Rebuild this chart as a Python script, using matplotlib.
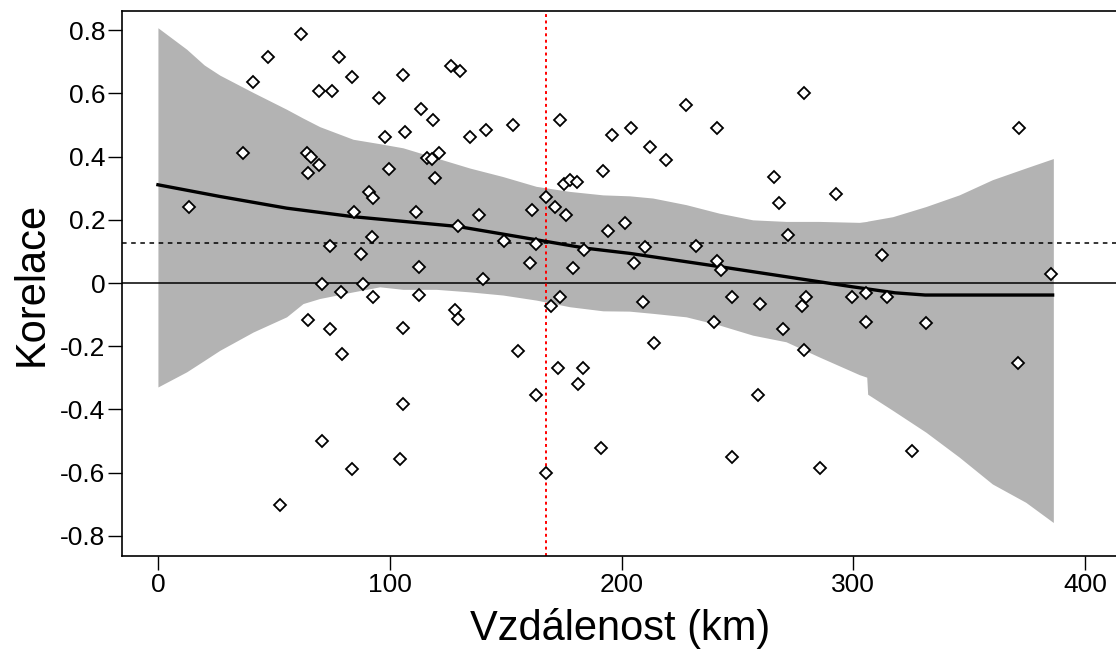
import matplotlib
matplotlib.use("Agg")
import matplotlib.pyplot as plt

plt.rcParams['font.family'] = ['Liberation Sans', 'DejaVu Sans']
plt.rcParams['axes.unicode_minus'] = False

# body: distance (km) vs. correlation
dist = [61.6, 47.3, 78.2, 41.0, 83.8, 69.3, 75.3, 95.4, 36.5, 64.5,
        66.2, 69.4, 64.7, 91.2, 93.0, 13.5, 84.6, 92.2, 74.4, 87.5,
        70.7, 88.5, 79.0, 92.8, 64.7, 74.4, 79.2, 70.7, 83.8, 52.6,
        126.3, 130.2, 105.7, 113.4, 118.8, 173.6, 98.1, 106.6, 134.8, 141.5,
        153.0, 195.8, 204.0, 121.1, 116.3, 118.2, 99.7, 119.5, 192.0, 175.0,
        177.6, 180.7, 167.5, 171.4, 176.0, 161.3, 111.2, 138.7, 129.4, 201.7,
        194.3, 149.1, 162.9, 183.8, 112.6, 160.6, 178.9, 140.2, 112.5, 173.6,
        169.7, 128.0, 129.4, 105.7, 155.5, 172.8, 183.6, 181.2, 162.9, 105.7,
        191.2, 104.3, 167.5, 278.9, 227.7, 241.4, 212.4, 219.4, 265.8, 292.5,
        268.1, 272.0, 210.2, 232.3, 205.6, 241.2, 243.0, 312.4, 209.3, 247.6,
        259.8, 279.6, 278.0, 299.3, 305.5, 240.0, 269.5, 305.5, 214.1, 278.7,
        259.1, 247.6, 285.5, 314.7, 331.3, 371.0, 325.3, 371.7, 385.5]
corr = [0.788, 0.714, 0.714, 0.636, 0.653, 0.608, 0.608, 0.585, 0.410, 0.412,
        0.399, 0.372, 0.349, 0.288, 0.269, 0.242, 0.226, 0.147, 0.118, 0.091,
        -0.003, -0.003, -0.029, -0.043, -0.117, -0.146, -0.224, -0.500, -0.590, -0.703,
        0.687, 0.670, 0.658, 0.551, 0.517, 0.517, 0.462, 0.478, 0.462, 0.484,
        0.500, 0.468, 0.491, 0.410, 0.395, 0.392, 0.361, 0.332, 0.354, 0.315,
        0.327, 0.321, 0.271, 0.242, 0.214, 0.231, 0.225, 0.214, 0.181, 0.191,
        0.164, 0.134, 0.123, 0.103, 0.052, 0.062, 0.047, 0.012, -0.038, -0.043,
        -0.073, -0.084, -0.113, -0.141, -0.214, -0.270, -0.270, -0.320, -0.353, -0.382,
        -0.522, -0.557, -0.601, 0.602, 0.563, 0.490, 0.429, 0.388, 0.337, 0.282,
        0.254, 0.152, 0.114, 0.118, 0.062, 0.069, 0.041, 0.090, -0.061, -0.043,
        -0.067, -0.043, -0.073, -0.043, -0.033, -0.123, -0.145, -0.123, -0.190, -0.213,
        -0.353, -0.550, -0.584, -0.043, -0.128, -0.252, -0.533, 0.490, 0.029]

# smoothed fit and its confidence band
fit_x = [0, 26.7, 55.5, 84.2, 129.4, 163.2, 184.8, 203.4, 242.2, 271, 299.7, 318, 331, 386]
fit_y = [0.311, 0.274, 0.237, 0.21, 0.179, 0.137, 0.11, 0.094, 0.052, 0.02, -0.012, -0.031, -0.038, -0.038]

band_x = [0, 12.4, 20, 26.7, 41.1, 55.5, 62.6, 69.8, 84.2, 95.7, 105.7, 120.1, 134.5, 148.8,
          163.2, 177.6, 192, 203.4, 213.5, 227.9, 242.2, 256.6, 271, 285.3, 302.6,
          305.8, 306.2, 317, 331.3, 345.7, 360, 374.4, 386.3]
band_hi = [0.808, 0.74, 0.69, 0.658, 0.603, 0.55, 0.522, 0.495, 0.455, 0.441, 0.428, 0.396, 0.364, 0.337,
           0.306, 0.29, 0.279, 0.276, 0.269, 0.248, 0.221, 0.2, 0.195, 0.195, 0.192,
           0.195, 0.196, 0.21, 0.242, 0.279, 0.327, 0.364, 0.394]
band_lo = [-0.329, -0.281, -0.245, -0.213, -0.155, -0.107, -0.065, -0.049, -0.028, -0.012, -0.02, -0.02, -0.028, -0.038,
           -0.054, -0.075, -0.088, -0.089, -0.096, -0.107, -0.133, -0.165, -0.186, -0.234, -0.29,
           -0.298, -0.352, -0.403, -0.472, -0.551, -0.636, -0.694, -0.758]

mean_corr = 0.127
mean_dist = 167.5

yticks = [0.8, 0.6, 0.4, 0.2, 0, -0.2, -0.4, -0.6, -0.8]
ytick_labels = ['0.8', '0.6', '0.4', '0.2', '0', '-0.2', '-0.4', '-0.6', '-0.8']
xticks = [0, 100, 200, 300, 400]

fig = plt.figure(figsize=(11.16, 6.55), dpi=100)
ax = fig.add_axes([122 / 1116, 1 - 556 / 655, 996 / 1116, 545 / 655])

ax.fill_between(band_x, band_lo, band_hi, color='#b3b3b3', lw=0, zorder=1)
ax.axhline(0, color='black', lw=1.1, zorder=2)
ax.axhline(mean_corr, color='black', lw=1.1, ls=(0, (3, 3)), zorder=2)
ax.axvline(mean_dist, color='red', lw=1.4, ls=(0, (1.5, 1.8)), zorder=2)
ax.plot(fit_x, fit_y, color='black', lw=2.4, zorder=3)
ax.plot(dist, corr, 'D', ms=5.8, mfc='white', mec='black', mew=1.3, zorder=4)

ax.set_xlim(-15.5, 414.2)
ax.set_ylim(-0.864, 0.861)
ax.set_xticks(xticks)
ax.set_yticks(yticks)
ax.set_yticklabels(ytick_labels)
ax.tick_params(length=10, width=1, labelsize=19, pad=2, color='black')
for s in ax.spines.values():
    s.set_linewidth(1.2)

ax.set_xlabel('Vzdálenost (km)', fontsize=30)
ax.set_ylabel('Korelace', fontsize=30)
ax.xaxis.set_label_coords(0.5, -0.095)
ax.yaxis.set_label_coords(-0.071, 0.5)

fig.savefig('out.png', dpi=100)
